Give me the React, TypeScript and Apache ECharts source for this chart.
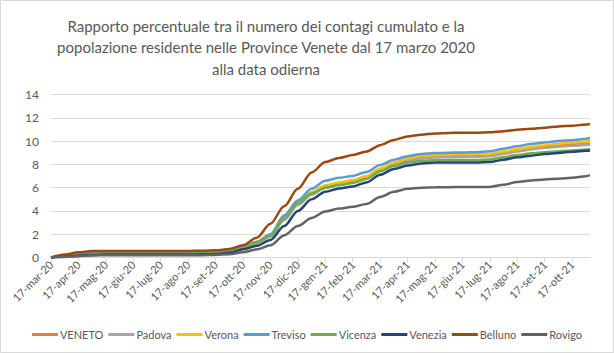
import React, { useEffect, useRef } from "react";
import * as echarts from "echarts";

const monthLabels = [
  "17-mar-20", "17-apr-20", "17-mag-20", "17-giu-20", "17-lug-20", "17-ago-20",
  "17-set-20", "17-ott-20", "17-nov-20", "17-dic-20", "17-gen-21", "17-feb-21",
  "17-mar-21", "17-apr-21", "17-mag-21", "17-giu-21", "17-lug-21", "17-ago-21",
  "17-set-21", "17-ott-21",
];

// sample positions, in months after 17-mar-20
const xPos = [
  0, 0.5, 1, 1.5, 2, 2.5, 3, 3.5, 4, 4.5, 5, 5.5, 6, 6.5, 7, 7.5, 8, 8.5, 9, 9.5,
  10, 10.5, 11, 11.5, 12, 12.5, 13, 13.5, 14, 14.5, 15, 15.5, 16, 16.5, 17, 17.5,
  18, 18.5, 19, 19.5, 19.65,
];

const veneto = [0,0.15,0.3,0.37,0.38,0.38,0.38,0.38,0.38,0.38,0.39,0.4,0.43,0.52,0.82,1.25,1.85,3.3,4.6,5.5,6.1,6.35,6.55,6.9,7.55,8.05,8.4,8.62,8.7,8.75,8.77,8.78,8.82,9.0,9.2,9.38,9.52,9.63,9.72,9.78,9.8];
const padova = [0,0.14,0.28,0.35,0.37,0.37,0.37,0.37,0.37,0.37,0.38,0.39,0.42,0.5,0.8,1.2,1.8,3.2,4.5,5.4,6.0,6.25,6.45,6.8,7.45,7.95,8.3,8.5,8.58,8.62,8.64,8.65,8.7,8.9,9.1,9.28,9.42,9.52,9.6,9.66,9.68];
const verona = [0,0.15,0.3,0.38,0.4,0.4,0.4,0.4,0.4,0.4,0.41,0.42,0.45,0.55,0.85,1.3,1.9,3.4,4.7,5.6,6.2,6.45,6.65,7.0,7.65,8.15,8.5,8.72,8.8,8.85,8.87,8.88,8.92,9.1,9.3,9.5,9.65,9.78,9.88,9.97,10.0];
const treviso = [0,0.15,0.3,0.38,0.4,0.4,0.4,0.4,0.4,0.4,0.41,0.42,0.45,0.55,0.9,1.35,2.0,3.6,4.9,5.9,6.6,6.85,7.0,7.35,7.95,8.4,8.7,8.9,8.97,9.0,9.02,9.05,9.12,9.35,9.55,9.75,9.88,10.0,10.08,10.2,10.24];
const vicenza = [0,0.12,0.25,0.3,0.32,0.32,0.32,0.32,0.32,0.32,0.33,0.34,0.38,0.5,0.85,1.3,1.85,3.35,4.65,5.5,6.0,6.2,6.4,6.75,7.4,7.85,8.15,8.3,8.35,8.37,8.38,8.38,8.42,8.62,8.8,8.95,9.05,9.13,9.2,9.27,9.3];
const venezia = [0,0.08,0.15,0.22,0.25,0.25,0.25,0.25,0.25,0.25,0.26,0.27,0.3,0.4,0.7,1.0,1.5,2.7,4.0,5.0,5.65,5.92,6.1,6.45,7.1,7.6,7.9,8.08,8.15,8.16,8.17,8.17,8.2,8.4,8.6,8.75,8.88,8.98,9.08,9.17,9.2];
const belluno = [0,0.25,0.45,0.55,0.55,0.55,0.55,0.55,0.55,0.55,0.56,0.58,0.62,0.72,1.05,1.7,2.9,4.4,5.9,7.3,8.2,8.55,8.8,9.1,9.65,10.1,10.4,10.55,10.65,10.7,10.72,10.72,10.75,10.85,10.98,11.05,11.15,11.25,11.32,11.42,11.47];
const rovigo = [0,0.05,0.1,0.18,0.2,0.2,0.2,0.2,0.2,0.2,0.2,0.2,0.22,0.28,0.45,0.7,1.05,1.9,2.7,3.4,3.95,4.2,4.35,4.6,5.2,5.65,5.9,6.0,6.03,6.04,6.05,6.05,6.06,6.25,6.48,6.62,6.7,6.77,6.85,6.98,7.07];

const seriesNames = ["VENETO", "Padova", "Verona", "Treviso", "Vicenza", "Venezia", "Belluno", "Rovigo"];
const seriesValues = [veneto, padova, verona, treviso, vicenza, venezia, belluno, rovigo];
const seriesColors = ["#ED7D31", "#A5A5A5", "#FFC000", "#5B9BD5", "#70AD47", "#264478", "#9E480E", "#636363"];

const titleText =
  "Rapporto percentuale tra il numero dei contagi cumulato e la\npopolazione residente nelle Province Venete dal 17 marzo 2020\nalla data odierna";

const FONT = "Lato";

export default function App() {
  const ref = useRef<HTMLDivElement>(null);
  useEffect(() => {
    if (!ref.current) return;
    const chart = echarts.init(ref.current, undefined, { renderer: "svg" });
    chart.setOption({
      animation: false,
      backgroundColor: "#ffffff",
      title: {
        text: titleText,
        left: 261,
        top: 10,
        textAlign: "center",
        textStyle: {
          fontFamily: FONT,
          fontSize: 15,
          fontWeight: "normal",
          color: "#595959",
          lineHeight: 21.5,
        },
      },
      legend: {
        bottom: 8,
        left: "center",
        data: seriesNames,
        icon: "rect",
        itemWidth: 26,
        itemHeight: 3,
        itemGap: 5,
        textStyle: { fontFamily: FONT, fontSize: 11, color: "#595959", padding: [0, 0, 0, -3] },
      },
      grid: { left: 51, right: 24, top: 94.5, bottom: 95.5, containLabel: false },
      xAxis: {
        type: "value",
        min: 0,
        max: 19.65,
        interval: 1,
        axisLine: { show: true, lineStyle: { color: "#d9d9d9" } },
        axisTick: { show: true, length: 5, lineStyle: { color: "#d9d9d9" } },
        splitLine: { show: false },
        axisLabel: {
          rotate: 45,
          fontFamily: FONT,
          fontSize: 11,
          color: "#595959",
          margin: 5,
          showMaxLabel: false,
          formatter: (v: number) => (Number.isInteger(v) && monthLabels[v] ? monthLabels[v] : ""),
        },
      },
      yAxis: {
        type: "value",
        min: 0,
        max: 14,
        interval: 2,
        axisLine: { show: false },
        axisTick: { show: false },
        splitLine: { lineStyle: { color: "#d9d9d9" } },
        axisLabel: { fontFamily: FONT, fontSize: 12, color: "#595959", margin: 12 },
      },
      series: seriesNames.map((name, k) => ({
        name,
        type: "line",
        data: xPos.map((x, i) => [x, seriesValues[k][i]]),
        showSymbol: false,
        smooth: 0.3,
        smoothMonotone: "x",
        lineStyle: { width: 2.5, color: seriesColors[k] },
        itemStyle: { color: seriesColors[k] },
      })),
      graphic: [
        {
          type: "rect",
          shape: { x: 0.5, y: 0.5, width: 613, height: 352 },
          style: { fill: "none", stroke: "#d9d9d9", lineWidth: 1 },
          silent: true,
        },
      ],
    });
    return () => chart.dispose();
  }, []);
  return (
    <div
      ref={ref}
      style={{ position: "fixed", left: 0, top: 0, width: 614, height: 353 }}
    />
  );
}
